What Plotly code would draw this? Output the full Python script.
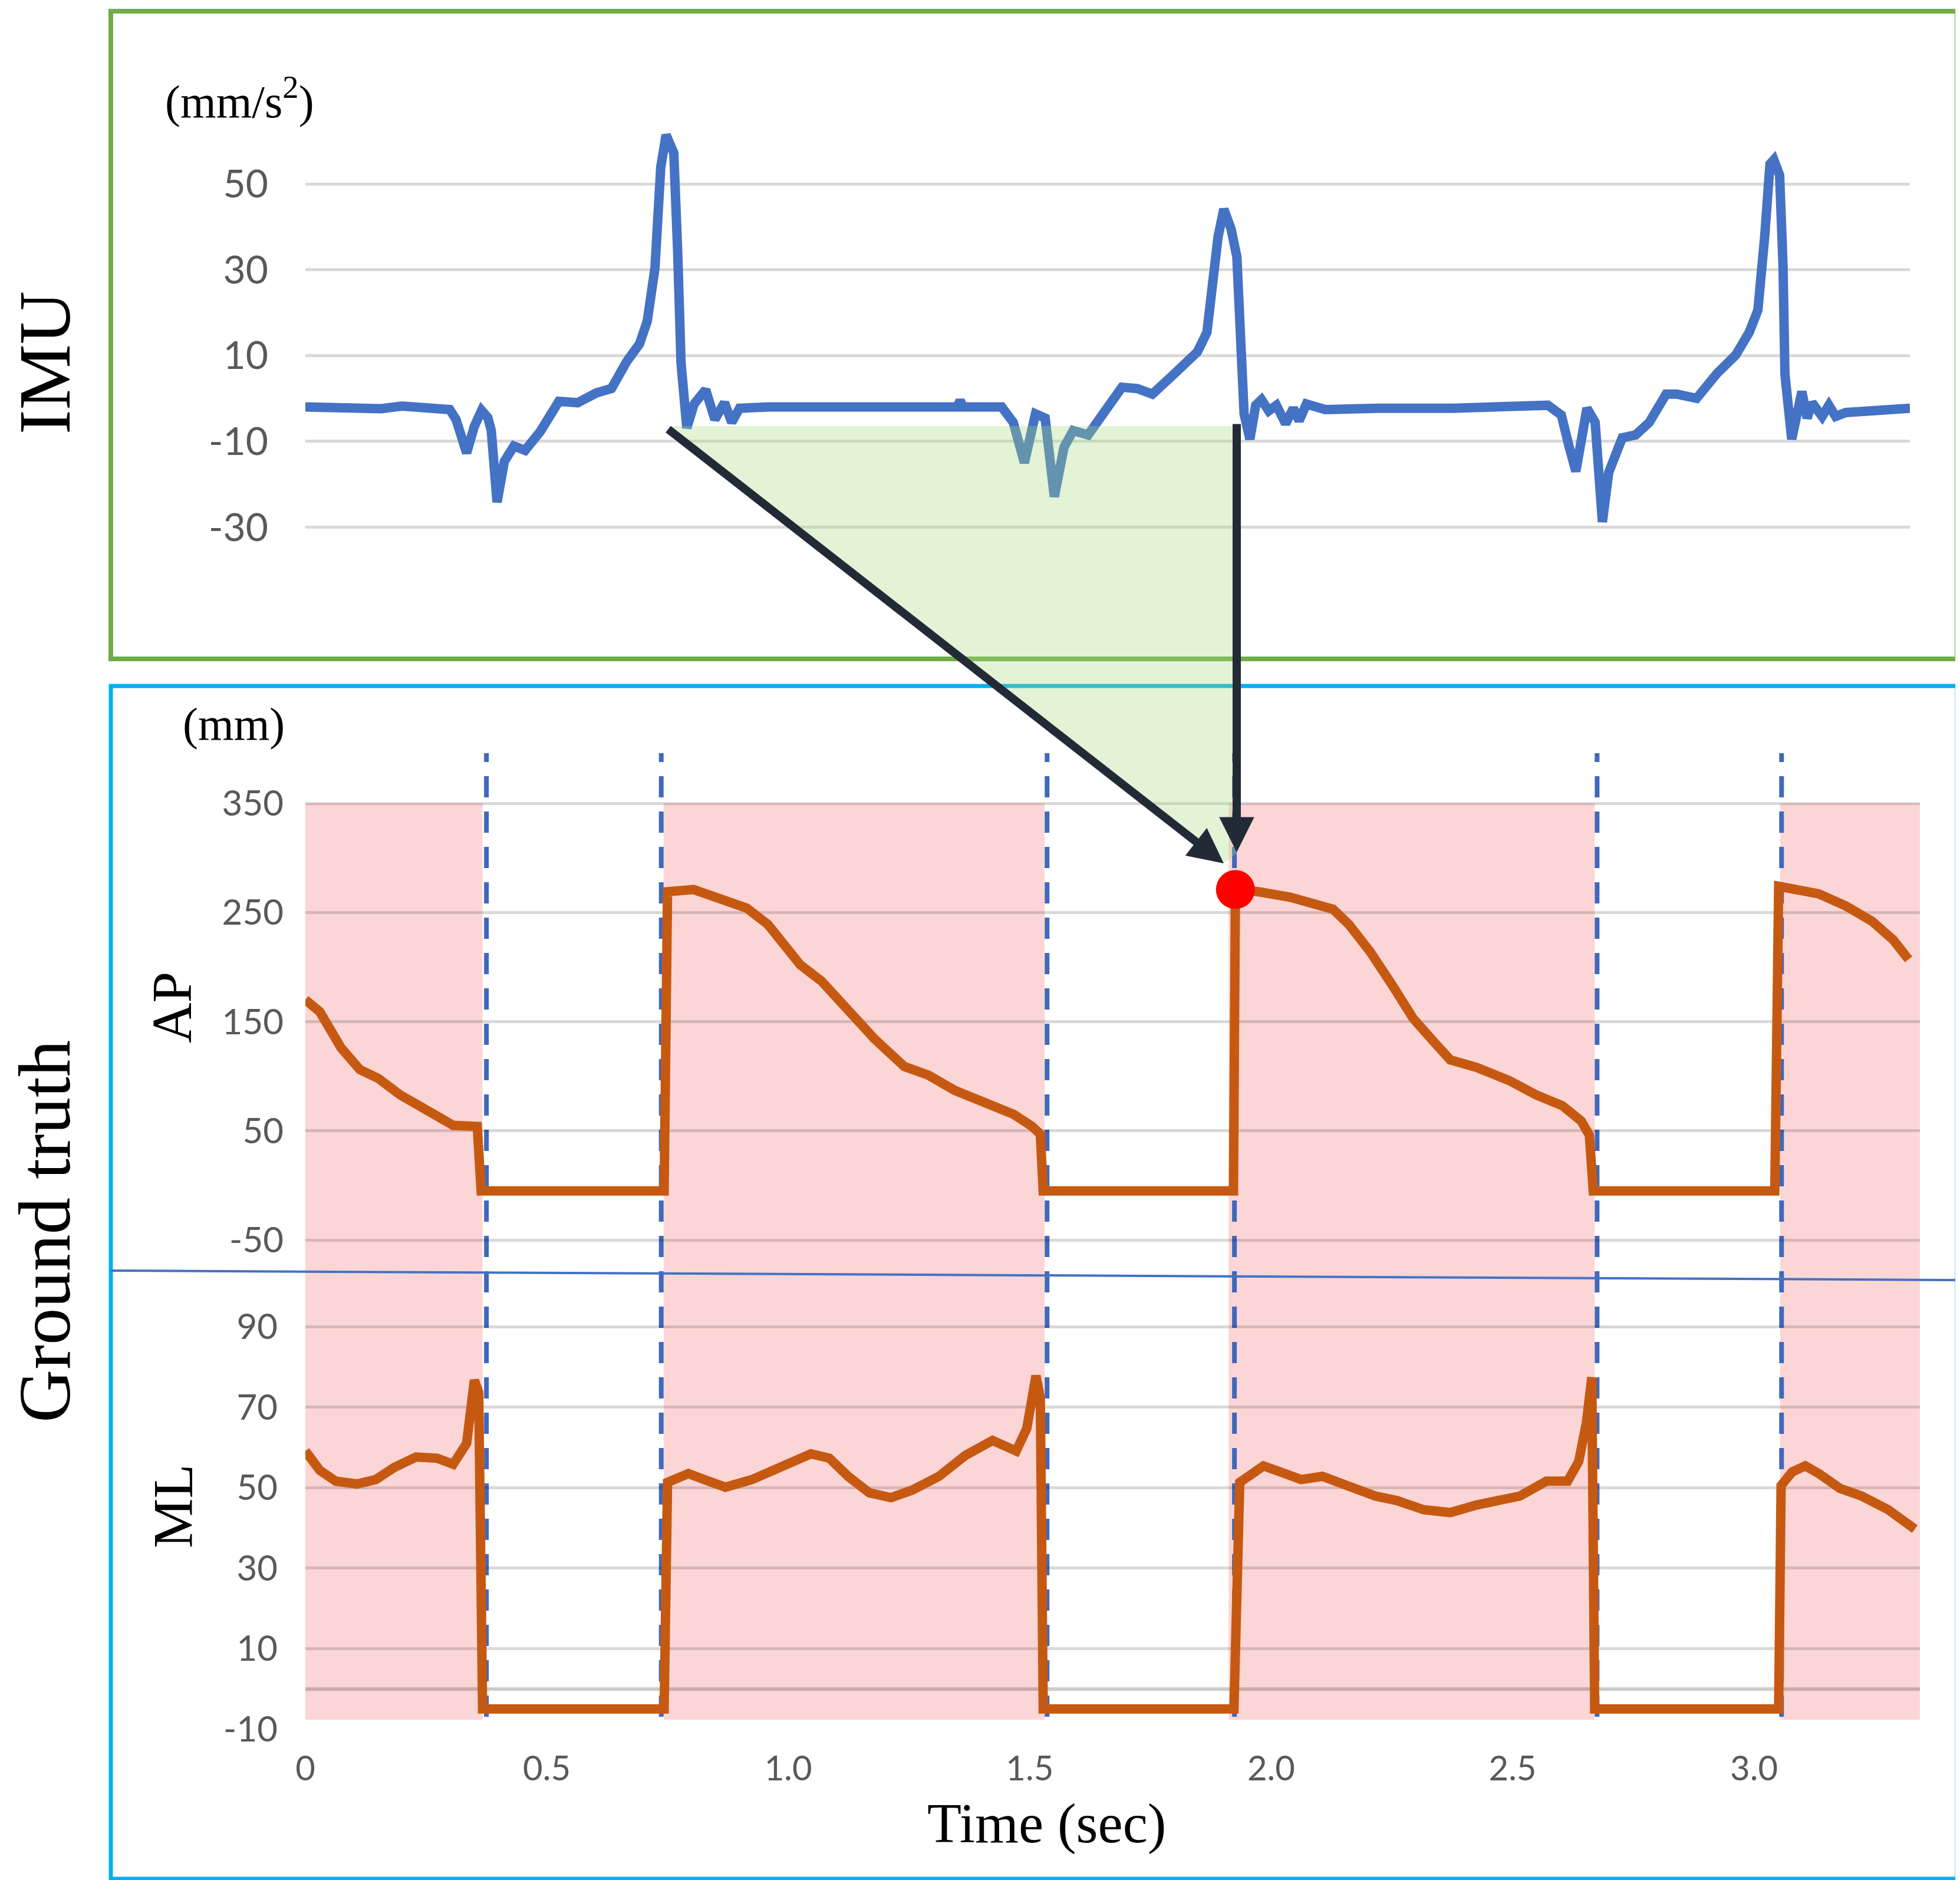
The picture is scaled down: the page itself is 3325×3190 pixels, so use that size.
import plotly.graph_objects as go

# IMU acceleration trace (mm/s^2)
imu_t = [0.000, 0.100, 0.157, 0.200, 0.260, 0.284, 0.299, 0.312, 0.334, 0.350,
         0.365, 0.378, 0.385, 0.397, 0.412, 0.432, 0.455, 0.486, 0.525, 0.564,
         0.603, 0.634, 0.665, 0.692, 0.708, 0.724, 0.736, 0.747, 0.763, 0.771,
         0.778, 0.790, 0.805, 0.829, 0.848, 0.868, 0.883, 0.899, 0.961, 1.100,
         1.350, 1.356, 1.362, 1.442, 1.466, 1.489, 1.512, 1.532, 1.551, 1.571,
         1.590, 1.621, 1.645, 1.691, 1.723, 1.754, 1.801, 1.847, 1.867, 1.879,
         1.890, 1.902, 1.917, 1.929, 1.937, 1.944, 1.956, 1.968, 1.980, 1.995,
         2.011, 2.030, 2.046, 2.058, 2.073, 2.112, 2.221, 2.376, 2.573, 2.601,
         2.616, 2.631, 2.654, 2.671, 2.686, 2.699, 2.727, 2.755, 2.783, 2.818,
         2.840, 2.881, 2.924, 2.962, 2.990, 3.008, 3.022, 3.033, 3.041, 3.053,
         3.060, 3.064, 3.078, 3.099, 3.110, 3.120, 3.141, 3.155, 3.169, 3.190,
         3.323]
imu_v = [-2.0, -2.0, -2.4, -1.8, -2.0, -2.2, -2.6, -4.9, -12.7, -6.5,
         -2.8, -4.5, -7.5, -24.2, -14.7, -11.1, -12.1, -7.8, -0.7, -1.0,
         1.3, 2.3, 8.5, 12.7, 18.0, 30.4, 53.9, 61.4, 57.2, 34.3,
         8.2, -6.9, -1.3, 2.0, -4.9, -1.0, -5.6, -2.3, -2.0, -2.0,
         -2.0, -0.5, -2.0, -2.0, -5.6, -15.0, -3.6, -4.6, -22.9, -11.4,
         -7.5, -8.5, -4.9, 2.6, 2.3, 1.0, 5.9, 10.8, 15.4, 27.8,
         37.6, 44.1, 39.5, 33.0, 8.2, -3.6, -9.5, -1.6, -0.3, -2.9,
         -1.6, -5.9, -2.3, -5.2, -1.3, -2.6, -2.3, -2.3, -1.6, -3.9,
         -10.8, -17.0, -2.3, -5.6, -28.8, -17.3, -9.2, -8.5, -5.6, 1.0,
         1.0, 0.0, 5.9, 10.1, 15.4, 20.6, 37.6, 54.6, 55.6, 52.0,
         31.0, 5.6, -9.5, 1.6, -4.6, -1.0, -4.2, -1.6, -4.2, -3.3,
         -2.3]

# ground truth, anterior-posterior (mm)
ap_t = [0.000, 0.030, 0.074, 0.113, 0.151, 0.196, 0.251, 0.306, 0.356, 0.364,
        0.743, 0.750, 0.804, 0.848, 0.914, 0.958, 0.992, 1.025, 1.069, 1.124,
        1.179, 1.240, 1.290, 1.345, 1.401, 1.467, 1.505, 1.522, 1.528, 1.922,
        1.926, 1.973, 2.039, 2.128, 2.161, 2.205, 2.250, 2.294, 2.338, 2.371,
        2.426, 2.493, 2.548, 2.603, 2.642, 2.659, 2.667, 3.043, 3.051, 3.090,
        3.134, 3.190, 3.244, 3.288, 3.320]
ap_v = [170, 159, 126, 106, 98, 83, 69, 55, 54, -5,
        -5, 269, 271, 264, 254, 239, 220, 202, 187, 159,
        134, 109, 101, 87, 76, 65, 54, 47, -5, -5,
        271, 269, 264, 253, 239, 214, 184, 153, 131, 115,
        108, 96, 83, 73, 59, 46, -5, -5, 274, 271,
        267, 256, 242, 225, 207]

# ground truth, medio-lateral (mm)
ml_t = [0.000, 0.030, 0.063, 0.107, 0.146, 0.184, 0.229, 0.273, 0.306, 0.334,
        0.350, 0.359, 0.367, 0.743, 0.750, 0.793, 0.826, 0.870, 0.925, 0.980,
        1.047, 1.085, 1.124, 1.168, 1.213, 1.257, 1.312, 1.367, 1.423, 1.472,
        1.494, 1.513, 1.522, 1.528, 1.923, 1.935, 1.951, 1.984, 2.028, 2.062,
        2.106, 2.161, 2.216, 2.260, 2.316, 2.371, 2.426, 2.515, 2.570, 2.614,
        2.637, 2.653, 2.664, 2.670, 3.051, 3.056, 3.079, 3.106, 3.134, 3.178,
        3.223, 3.278, 3.333]
ml_v = [59.1, 54.3, 51.6, 50.9, 52.0, 55.0, 57.6, 57.3, 55.8, 61.0,
        76.7, 73.7, -5, -5, 51.3, 53.5, 52.0, 50.1, 52.0, 55.0,
        58.4, 57.3, 52.8, 48.7, 47.5, 49.4, 52.8, 58.0, 61.7, 59.1,
        64.7, 77.8, 72.2, -5, -5, 51.3, 52.8, 55.4, 53.5, 52.0,
        52.8, 50.1, 47.9, 46.8, 44.5, 43.8, 45.7, 47.9, 51.6, 51.6,
        56.5, 66.2, 77.4, -5, -5, 50.5, 53.9, 55.4, 53.5, 49.8,
        47.9, 44.5, 39.7]

# gait events
event_t = [0.375, 0.737, 1.536, 1.924, 2.675, 3.057]
stance_start = [0.0, 0.742, 1.912, 3.054]
stance_end = [0.367, 1.531, 2.670, 3.3435]
strike_t = [1.926]
strike_ap = [271]

imu_ticks = [-30, -10, 10, 30, 50]
ap_ticks = [-50, 50, 150, 250, 350]
ml_ticks = [-10, 10, 30, 50, 70, 90]
time_ticks = [0, 0.5, 1.0, 1.5, 2.0, 2.5, 3.0]
time_labels = ["0", "0.5", "1.0", "1.5", "2.0", "2.5", "3.0"]

# page geometry in pixels
W, H = 3325, 3190
PX_SEC = 819.2
X0 = 510


def fx(p):
    return p / W


def fy(p):
    return 1 - p / H


SERIF = "Liberation Serif"
SANS = "Lato"
GRAY = "#595959"

fig = go.Figure()
fig.add_trace(go.Scatter(x=imu_t, y=imu_v, mode="lines", xaxis="x", yaxis="y",
                         line=dict(color="#4472C4", width=16)))
fig.add_trace(go.Scatter(x=ap_t, y=ap_v, mode="lines", xaxis="x2", yaxis="y2",
                         line=dict(color="#C65911", width=16)))
fig.add_trace(go.Scatter(x=ml_t, y=ml_v, mode="lines", xaxis="x3", yaxis="y3",
                         line=dict(color="#C65911", width=16)))
fig.add_trace(go.Scatter(x=strike_t, y=strike_ap, mode="markers", xaxis="x2", yaxis="y2",
                         marker=dict(color="#FF0000", size=66)))

shapes = []
# stance phases (pink)
for s, e in zip(stance_start, stance_end):
    shapes.append(dict(type="rect", xref="x2", yref="paper", x0=s, x1=e,
                       y0=fy(2910), y1=fy(1355), fillcolor="#FCD6D6",
                       line=dict(width=0), layer="below"))
# event markers
for t in event_t:
    shapes.append(dict(type="line", xref="x2", yref="paper", x0=t, x1=t,
                       y0=fy(2905), y1=fy(1270),
                       line=dict(color="#4068BC", width=8, dash="36px,24px"),
                       layer="below"))
# panel frames
shapes.append(dict(type="rect", xref="paper", yref="paper", x0=fx(180), x1=fx(3312),
                   y0=fy(1110), y1=fy(11), line=dict(color="#70AD47", width=8)))
shapes.append(dict(type="rect", xref="paper", yref="paper", x0=fx(180), x1=fx(3312),
                   y0=fy(3180), y1=fy(1156), line=dict(color="#00B0F0", width=7)))
# separator between AP and ML
shapes.append(dict(type="line", xref="paper", yref="paper", x0=fx(180), x1=fx(3312),
                   y0=fy(2148), y1=fy(2164), line=dict(color="#4472C4", width=4)))
# green projection wedge
pts = [(1124, 715), (2090, 715), (2090, 1440), (2068, 1457)]
path = "M " + " L ".join(f"{fx(a):.5f},{fy(b):.5f}" for a, b in pts) + " Z"
shapes.append(dict(type="path", xref="paper", yref="paper", path=path,
                   fillcolor="rgba(169,219,128,0.32)", line=dict(width=0), layer="above"))

annotations = [
    dict(text="IMU", x=fx(68), y=fy(608), textangle=-90, font=dict(family=SERIF, size=125, color="black")),
    dict(text="Ground truth", x=fx(68), y=fy(2082), textangle=-90, font=dict(family=SERIF, size=125, color="black")),
    dict(text="(mm/s<sup>2</sup>)", x=fx(398), y=fy(158), font=dict(family=SERIF, size=78, color="black")),
    dict(text="(mm)", x=fx(388), y=fy(1220), font=dict(family=SERIF, size=78, color="black")),
    dict(text="AP", x=fx(284), y=fy(1702), textangle=-90, font=dict(family=SERIF, size=95, color="black")),
    dict(text="ML", x=fx(286), y=fy(2548), textangle=-90, font=dict(family=SERIF, size=95, color="black")),
    dict(text="Time (sec)", x=fx(1767), y=fy(3086), font=dict(family=SERIF, size=95, color="black")),
]
for a in annotations:
    a.update(xref="paper", yref="paper", showarrow=False, xanchor="center", yanchor="middle")

# arrows from IMU events down to the heel strike
for tail, tip in [((1124, 719), (2068, 1457)), ((2090, 710), (2090, 1438))]:
    annotations.append(dict(text="", xref="paper", yref="paper", x=fx(tip[0]), y=fy(tip[1]),
                            axref="pixel", ayref="pixel", ax=tail[0] - tip[0], ay=tail[1] - tip[1],
                            showarrow=True, arrowhead=2, arrowsize=0.85, arrowwidth=14,
                            arrowcolor="#222A35", standoff=0, startstandoff=0))

axis_common = dict(showline=False, zeroline=False, ticks="", fixedrange=True)

fig.update_layout(
    template="none",
    width=W, height=H, autosize=False,
    margin=dict(l=0, r=0, t=0, b=0),
    paper_bgcolor="white", plot_bgcolor="rgba(0,0,0,0)",
    showlegend=False,
    shapes=shapes, annotations=annotations,
    xaxis=dict(domain=[fx(X0), fx(3232)], range=[0, (3232 - X0) / PX_SEC],
               showgrid=False, showticklabels=False, **axis_common),
    yaxis=dict(domain=[fy(1050), fy(150)], range=[50 - (1050 - 304) / 7.28, 50 + (304 - 150) / 7.28],
               tickvals=imu_ticks, ticktext=[str(v) for v in imu_ticks],
               showgrid=True, gridcolor="#D9D9D9", gridwidth=5,
               tickfont=dict(family=SANS, size=66, color=GRAY), ticklabelstandoff=62,
               anchor="x", **axis_common),
    xaxis2=dict(domain=[fx(X0), fx(3249)], range=[0, (3249 - X0) / PX_SEC], anchor="y2",
                showgrid=False, showticklabels=False, **axis_common),
    yaxis2=dict(domain=[fy(2150), fy(1345)], range=[350 - (2150 - 1355) / 1.8525, 350 + 10 / 1.8525],
                tickvals=ap_ticks, ticktext=[str(v) for v in ap_ticks],
                showgrid=True, gridcolor="rgba(0,0,0,0.15)", gridwidth=5,
                tickfont=dict(family=SANS, size=60, color=GRAY), ticklabelstandoff=36,
                anchor="x2", **axis_common),
    xaxis3=dict(domain=[fx(X0), fx(3249)], range=[0, (3249 - X0) / PX_SEC], anchor="y3",
                showgrid=False, tickvals=time_ticks, ticktext=time_labels,
                tickfont=dict(family=SANS, size=58, color=GRAY), ticklabelstandoff=28,
                **axis_common),
    yaxis3=dict(domain=[fy(2926), fy(2160)], range=[-10, 90 + (2243 - 2160) / 6.83],
                tickvals=ml_ticks, ticktext=[str(v) for v in ml_ticks],
                showgrid=True, gridcolor="rgba(0,0,0,0.15)", gridwidth=5,
                tickfont=dict(family=SANS, size=60, color=GRAY), ticklabelstandoff=46,
                anchor="x3", showline=False, ticks="", fixedrange=True,
                zeroline=True, zerolinecolor="rgba(0,0,0,0.2)", zerolinewidth=6),
)

fig.write_html("out.html")
